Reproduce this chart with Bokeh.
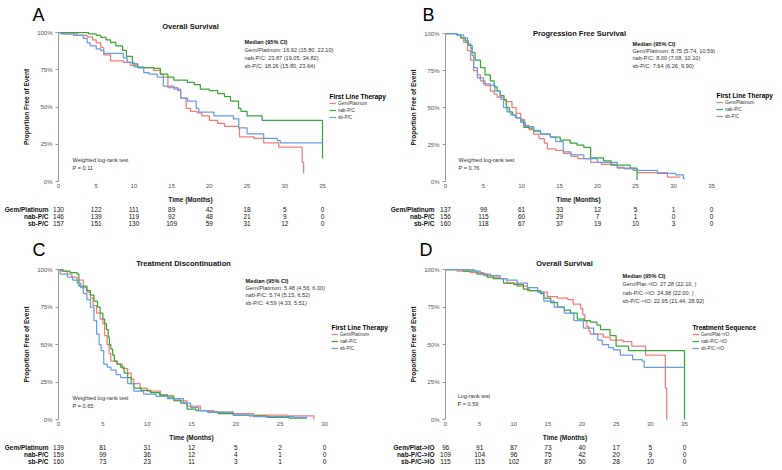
from bokeh.plotting import figure
from bokeh.models import (Range1d, Label, LabelSet, Legend, LegendItem, FixedTicker,
                          NumeralTickFormatter, ColumnDataSource)
from bokeh.layouts import column, row
from bokeh.embed import file_html
from bokeh.resources import INLINE
from bokeh.core.properties import value

FONT = "Liberation Sans"
RED, GREEN, BLUE = "#EF7E76", "#3AA53A", "#6A9BE6"
COLORS = [RED, GREEN, BLUE]

# ---------------- data ----------------
ticks_35 = [0, 5, 10, 15, 20, 25, 30, 35]
ticks_30 = [0, 5, 10, 15, 20, 25, 30]
y_ticks = [0, 0.25, 0.5, 0.75, 1.0]

first_line = ["Gem/Platinum", "nab-P/C", "sb-P/C"]
sequence = ["Gem/Plat->IO", "nab-P/C->IO", "sb-P/C->IO"]

# Panel A: Overall Survival (first line therapy)
a_gem_t = [0, 0.5, 2.5, 3.8, 4.5, 5.0, 5.6, 6.0, 6.9, 8.6, 9.5, 10.5, 12.6, 13.5, 13.9, 14.5, 15.8, 16.2, 16.92, 17.5, 18.4, 19.0, 20.0, 21.1, 22.0, 23.9, 24.0, 25.9, 27.2, 29.2, 32.3, 32.5]
a_gem_s = [1.0, 0.99, 0.98, 0.97, 0.95, 0.93, 0.90, 0.85, 0.81, 0.80, 0.78, 0.765, 0.745, 0.72, 0.70, 0.63, 0.61, 0.56, 0.49, 0.47, 0.46, 0.44, 0.41, 0.39, 0.37, 0.355, 0.30, 0.29, 0.26, 0.23, 0.13, 0.055]
a_nab_t = [0, 4.0, 5.0, 5.6, 6.3, 6.9, 7.6, 8.5, 9.0, 9.8, 10.5, 12.6, 13.5, 14.5, 15.3, 17.1, 18.0, 18.8, 20.0, 21.1, 22.0, 22.8, 23.87, 24.2, 25.0, 27.0, 35.0]
a_nab_s = [1.0, 0.99, 0.98, 0.967, 0.95, 0.933, 0.91, 0.88, 0.84, 0.79, 0.765, 0.76, 0.72, 0.70, 0.68, 0.665, 0.65, 0.62, 0.61, 0.59, 0.57, 0.54, 0.49, 0.47, 0.44, 0.41, 0.155]
a_sb_t = [0, 0.3, 2.0, 3.3, 3.8, 4.2, 5.0, 5.6, 6.0, 8.6, 9.1, 10.0, 11.3, 12.0, 13.1, 13.9, 15.3, 16.2, 17.1, 18.26, 18.6, 20.6, 23.2, 23.9, 25.0, 27.2, 29.0, 29.4, 35.0]
a_sb_s = [1.0, 0.99, 0.98, 0.96, 0.93, 0.91, 0.89, 0.88, 0.86, 0.83, 0.80, 0.77, 0.73, 0.72, 0.70, 0.64, 0.62, 0.56, 0.54, 0.49, 0.465, 0.44, 0.42, 0.36, 0.32, 0.29, 0.275, 0.26, 0.26]
a_risk_gem = [130, 122, 111, 89, 42, 18, 5, 0]
a_risk_nab = [146, 139, 119, 92, 48, 21, 9, 0]
a_risk_sb = [157, 151, 130, 109, 59, 31, 12, 0]
a_median = ["Gem/Platinum: 16.92 (15.80, 22.10)", "nab-P/C: 23.87 (19.05, 34.82)", "sb-P/C: 18.26 (15.80, 23.64)"]
a_test = ["Weighted log-rank test", "P = 0.11"]

# Panel B: Progression Free Survival
b_gem_t = [0, 1.5, 2.0, 2.4, 2.9, 3.3, 3.7, 4.2, 4.6, 5.2, 5.9, 6.4, 6.8, 7.3, 8.0, 8.75, 9.3, 9.9, 10.4, 11.0, 11.6, 12.3, 13.0, 13.4, 14.5, 15.5, 16.5, 17.4, 19.1, 20.5, 22.6, 23.5, 25.2, 29.2, 30.9]
b_gem_s = [1.0, 0.99, 0.97, 0.94, 0.885, 0.82, 0.75, 0.72, 0.68, 0.65, 0.61, 0.59, 0.57, 0.555, 0.54, 0.50, 0.46, 0.42, 0.38, 0.35, 0.32, 0.29, 0.26, 0.22, 0.21, 0.19, 0.17, 0.155, 0.13, 0.115, 0.095, 0.085, 0.06, 0.03, 0.03]
b_nab_t = [0, 1.5, 2.0, 2.6, 3.0, 3.5, 3.9, 4.6, 5.2, 5.9, 6.4, 6.8, 7.2, 7.7, 8.0, 8.4, 8.8, 9.3, 9.9, 10.3, 11.0, 11.6, 12.5, 13.8, 15.1, 16.4, 17.3, 18.2, 19.1, 20.8, 21.8, 24.3, 25.2]
b_nab_s = [1.0, 0.99, 0.97, 0.95, 0.92, 0.87, 0.82, 0.77, 0.72, 0.68, 0.64, 0.61, 0.58, 0.55, 0.50, 0.47, 0.45, 0.43, 0.41, 0.365, 0.36, 0.34, 0.32, 0.30, 0.28, 0.26, 0.245, 0.23, 0.16, 0.14, 0.11, 0.09, 0.01]
b_sb_t = [0, 1.5, 2.4, 2.9, 3.3, 3.5, 3.7, 4.2, 5.0, 5.9, 6.5, 7.2, 7.64, 8.1, 8.6, 9.2, 9.9, 10.5, 11.6, 12.5, 13.8, 14.5, 15.5, 16.5, 18.2, 20.0, 22.6, 24.7, 27.9, 30.3, 31.3, 31.5]
b_sb_s = [1.0, 0.99, 0.97, 0.93, 0.90, 0.85, 0.77, 0.70, 0.66, 0.65, 0.61, 0.57, 0.50, 0.47, 0.45, 0.43, 0.40, 0.37, 0.345, 0.32, 0.30, 0.27, 0.20, 0.18, 0.155, 0.13, 0.09, 0.075, 0.055, 0.045, 0.02, 0.02]
b_risk_gem = [137, 99, 61, 33, 12, 5, 1, 0]
b_risk_nab = [156, 115, 60, 29, 7, 1, 0, 0]
b_risk_sb = [160, 118, 67, 37, 19, 10, 3, 0]
b_median = ["Gem/Platinum: 8.75 (5.74, 10.59)", "nab-P/C: 8.00 (7.08, 10.10)", "sb-P/C: 7.64 (6.26, 9.90)"]
b_test = ["Weighted log-rank test", "P = 0.76"]

# Panel C: Treatment Discontinuation
c_gem_t = [0, 0.3, 1.0, 1.5, 2.1, 2.8, 3.2, 3.6, 3.9, 4.3, 4.7, 5.0, 5.2, 5.48, 5.7, 5.9, 6.6, 7.2, 7.8, 8.2, 8.5, 9.2, 10.0, 11.5, 13.0, 14.5, 16.0, 17.5, 19.7, 22.0, 25.8, 28.8]
c_gem_s = [1.0, 0.99, 0.97, 0.95, 0.93, 0.88, 0.85, 0.81, 0.76, 0.71, 0.67, 0.64, 0.56, 0.50, 0.44, 0.39, 0.37, 0.34, 0.31, 0.27, 0.24, 0.21, 0.19, 0.16, 0.125, 0.09, 0.06, 0.05, 0.04, 0.03, 0.025, 0.0]
c_nab_t = [0, 0.5, 1.3, 2.1, 2.3, 3.2, 3.6, 4.0, 4.4, 4.7, 5.0, 5.2, 5.4, 5.6, 5.74, 5.9, 6.1, 6.3, 6.6, 7.0, 7.4, 7.8, 8.2, 8.5, 9.3, 10.4, 11.4, 12.3, 13.0, 13.8, 14.5, 15.5, 16.8, 18.0, 19.7, 21.5, 23.5, 26.0, 28.0]
c_nab_s = [1.0, 0.99, 0.98, 0.97, 0.89, 0.86, 0.83, 0.79, 0.75, 0.71, 0.67, 0.64, 0.60, 0.55, 0.50, 0.47, 0.43, 0.39, 0.37, 0.35, 0.31, 0.28, 0.24, 0.21, 0.195, 0.18, 0.165, 0.15, 0.13, 0.11, 0.07, 0.06, 0.05, 0.04, 0.03, 0.025, 0.015, 0.01, 0.01]
c_sb_t = [0, 0.2, 1.0, 1.6, 2.1, 2.5, 2.8, 3.2, 3.6, 4.0, 4.3, 4.59, 4.8, 5.1, 5.5, 5.9, 6.5, 7.0, 7.8, 8.5, 9.6, 11.0, 12.3, 14.1, 14.9, 15.8, 16.8, 19.7, 22.0, 26.5, 28.0]
c_sb_s = [1.0, 0.97, 0.95, 0.93, 0.91, 0.88, 0.84, 0.80, 0.75, 0.66, 0.57, 0.50, 0.46, 0.37, 0.35, 0.33, 0.30, 0.28, 0.24, 0.19, 0.17, 0.155, 0.14, 0.11, 0.08, 0.06, 0.05, 0.03, 0.02, 0.015, 0.01]
c_risk_gem = [139, 81, 31, 12, 5, 2, 0]
c_risk_nab = [159, 99, 36, 12, 4, 1, 0]
c_risk_sb = [160, 73, 23, 11, 3, 1, 0]
c_median = ["Gem/Platinum: 5.48 (4.56, 6.00)", "nab-P/C: 5.74 (5.15, 6.52)", "sb-P/C: 4.59 (4.33, 5.51)"]
c_test = ["Weighted log-rank test", "P = 0.65"]

# Panel D: Overall Survival (treatment sequence)
d_gem_t = [0, 1.7, 3.6, 5.6, 7.0, 8.0, 9.0, 10.5, 12.0, 13.5, 14.9, 16.4, 17.9, 18.7, 19.8, 20.1, 20.4, 20.7, 21.0, 21.2, 23.1, 24.1, 26.0, 27.28, 29.3, 32.2, 32.4]
d_gem_s = [1.0, 0.99, 0.98, 0.96, 0.95, 0.94, 0.91, 0.89, 0.86, 0.85, 0.82, 0.81, 0.80, 0.77, 0.74, 0.70, 0.66, 0.62, 0.59, 0.57, 0.55, 0.53, 0.52, 0.49, 0.43, 0.21, 0.0]
d_nab_t = [0, 2.6, 4.6, 6.1, 7.0, 8.5, 10.0, 11.4, 12.3, 13.9, 14.4, 15.4, 16.4, 17.4, 18.3, 19.3, 20.3, 21.2, 22.2, 22.7, 24.1, 24.98, 26.8, 35.0]
d_nab_s = [1.0, 0.99, 0.97, 0.95, 0.94, 0.91, 0.90, 0.87, 0.86, 0.84, 0.81, 0.78, 0.75, 0.73, 0.71, 0.67, 0.66, 0.65, 0.63, 0.60, 0.56, 0.49, 0.46, 0.0]
d_sb_t = [0, 3.7, 4.2, 5.1, 6.6, 8.0, 9.0, 10.5, 12.0, 13.5, 14.4, 15.9, 17.4, 18.8, 20.2, 21.7, 22.3, 22.95, 23.9, 24.6, 25.6, 27.4, 28.8, 29.1, 35.0]
d_sb_s = [1.0, 1.0, 0.99, 0.97, 0.96, 0.94, 0.93, 0.91, 0.88, 0.85, 0.79, 0.75, 0.71, 0.66, 0.61, 0.57, 0.53, 0.50, 0.48, 0.465, 0.43, 0.40, 0.39, 0.347, 0.347]
d_risk_gem = [96, 91, 87, 73, 40, 17, 5, 0]
d_risk_nab = [109, 104, 96, 75, 42, 20, 9, 0]
d_risk_sb = [115, 115, 102, 87, 50, 28, 10, 0]
d_median = ["Gem/Plat->IO: 27.28 (22.10, )", "nab-P/C->IO: 24.98 (22.00, )", "sb-P/C->IO: 22.95 (21.44, 28.92)"]
d_test = ["Log-rank test", "P = 0.59"]

ROW_GAP = 7.0    # px between risk-table rows
ITEM_H = 6       # legend item height in px
ITEM_GAP = 1     # legend item spacing in px


def km_panel(letter, title, xmax, ticks, names, curves, risks, median_lines, test_lines, legend_title,
             W, H, L, R, T, B, letter_pos, title_pos, med_pos, med_gap, test_pos, leg_pos, row0, lab_gap):
    """One panel; L/R/T/B give the pixel box of the survival plot inside the canvas."""
    kx = xmax / (R - L)
    ky = 1.0 / (B - T)
    p = figure(width=W, height=H,
               x_range=Range1d(-L * kx, xmax + (W - R) * kx),
               y_range=Range1d(-(H - B) * ky, 1 + T * ky),
               min_border_left=0, min_border_right=0, min_border_top=0, min_border_bottom=0,
               output_backend="svg", toolbar_location=None)
    p.extra_y_ranges = {"rows": Range1d((H - row0) / ROW_GAP, -row0 / ROW_GAP)}
    p.xgrid.visible = False
    p.ygrid.visible = False
    p.outline_line_color = None

    for ax in (p.xaxis, p.yaxis):
        ax.major_label_text_font = FONT
        ax.major_label_text_font_size = "6px"
        ax.major_label_text_color = "#555555"
        ax.axis_label_text_font = FONT
        ax.axis_label_text_font_size = "6.5px"
        ax.axis_label_text_font_style = "bold"
        ax.axis_label_text_color = "#111111"
        ax.minor_tick_line_color = None

    p.xaxis.fixed_location = 0
    p.xaxis.bounds = (0, xmax)
    p.xaxis.ticker = FixedTicker(ticks=ticks)
    p.xaxis.axis_label = "Time (Months)"
    p.xaxis.axis_line_color = None
    p.xaxis.major_tick_line_color = None
    p.xaxis.major_tick_out = 0
    p.xaxis.major_tick_in = 0
    p.xaxis.major_label_standoff = 2
    p.xaxis.axis_label_standoff = 5

    p.yaxis.fixed_location = 0
    p.yaxis.bounds = (0, 1)
    p.yaxis.ticker = FixedTicker(ticks=y_ticks)
    p.yaxis.formatter = NumeralTickFormatter(format="0%")
    p.yaxis.axis_label = "Proportion Free of Event"
    p.yaxis.axis_line_color = "#9a9a9a"
    p.yaxis.major_tick_line_color = "#9a9a9a"
    p.yaxis.major_tick_out = 3
    p.yaxis.major_tick_in = 0
    p.yaxis.major_label_standoff = 3
    p.yaxis.axis_label_standoff = 4

    def put(px, py, text, size, bold=False, align="left", color="#222222"):
        p.add_layout(Label(x=(px - L) * kx, y=1 - (py - T) * ky, text=text, text_font=FONT,
                           text_font_size=size, text_font_style="bold" if bold else "normal",
                           text_align=align, text_baseline="middle", text_color=color,
                           text_outline_color=None, background_fill_color=None, border_line_color=None))

    items = []
    for name, color, (t, s) in zip(names, COLORS, curves):
        r = p.step(t, s, mode="after", line_color=color, line_width=1.25)
        items.append(LegendItem(label=name, renderers=[r]))

    lx, ly = leg_pos   # legend left edge, legend-title centre (px)
    put(4, H - 4, " ", "6px", color="#ffffff")   # blank spacer text, drawn first
    put(letter_pos[0], letter_pos[1], letter, "18px", color="#000000")
    put(title_pos[0], title_pos[1], title, "7.5px", bold=True, align="center", color="#111111")
    mx, my = med_pos
    put(mx, my, "Median (95% CI)", "5.6px", bold=True, color="#111111")
    for i, line in enumerate(median_lines):
        put(mx, my + med_gap * (i + 1), line, "5.6px", color="#333333")
    tx, ty = test_pos
    for i, line in enumerate(test_lines):
        put(tx, ty + 8 * i, line, "5.6px", color="#333333")
    put(lx, ly, legend_title, "6.5px", bold=True, color="#000000")

    # numbers at risk, on the same month scale as the curves
    xs, ys, txt = [], [], []
    for ri, counts in enumerate(risks):
        for tk, n in zip(ticks, counts):
            xs.append(tk)
            ys.append(ri)
            txt.append(str(n))
    p.add_layout(LabelSet(x="x", y="y", text="t", y_range_name="rows",
                          source=ColumnDataSource(dict(x=xs, y=ys, t=txt)),
                          text_align="center", text_baseline="middle", text_font=value(FONT),
                          text_font_size="6.5px", text_color="#111111"))
    p.add_layout(LabelSet(x="x", y="y", text="t", y_range_name="rows",
                          source=ColumnDataSource(dict(x=[0] * len(names), y=list(range(len(names))), t=names)),
                          x_offset=-lab_gap, text_align="right", text_baseline="middle", text_font=value(FONT),
                          text_font_size="6.5px", text_font_style="bold", text_color="#111111"))

    # legend drawn last
    n_items = len(items)
    leg_bottom = ly + 7 - ITEM_H / 2 + n_items * ITEM_H + (n_items - 1) * ITEM_GAP
    leg = Legend(items=items, location=(lx, H - leg_bottom),
                 label_text_font=FONT, label_text_font_size="4.6px", label_text_color="#333333",
                 label_height=ITEM_H, glyph_height=ITEM_H, glyph_width=7, label_standoff=2,
                 spacing=ITEM_GAP, padding=0, margin=0, border_line_color=None, background_fill_alpha=0)
    p.add_layout(leg)
    return p


pA = km_panel("A", "Overall Survival", 35, ticks_35, first_line,
              [(a_gem_t, a_gem_s), (a_nab_t, a_nab_s), (a_sb_t, a_sb_s)],
              [a_risk_gem, a_risk_nab, a_risk_sb], a_median, a_test, "First Line Therapy",
              W=390, H=236, L=58, R=322, T=32, B=181,
              letter_pos=(32, 14), title_pos=(190, 26), med_pos=(244, 41), med_gap=8.2,
              test_pos=(72, 159), leg_pos=(329, 96), row0=209, lab_gap=10)
pB = km_panel("B", "Progression Free Survival", 35, ticks_35, first_line,
              [(b_gem_t, b_gem_s), (b_nab_t, b_nab_s), (b_sb_t, b_sb_s)],
              [b_risk_gem, b_risk_nab, b_risk_sb], b_median, b_test, "First Line Therapy",
              W=390, H=236, L=55, R=321, T=33, B=181,
              letter_pos=(32, 14), title_pos=(189, 33), med_pos=(242, 43), med_gap=7.4,
              test_pos=(68, 159), leg_pos=(326, 95), row0=209, lab_gap=11)
pC = km_panel("C", "Treatment Discontinuation", 30, ticks_30, first_line,
              [(c_gem_t, c_gem_s), (c_nab_t, c_nab_s), (c_sb_t, c_sb_s)],
              [c_risk_gem, c_risk_nab, c_risk_sb], c_median, c_test, "First Line Therapy",
              W=390, H=232, L=58, R=324, T=33, B=183,
              letter_pos=(32, 13), title_pos=(183, 27), med_pos=(245, 44), med_gap=7.4,
              test_pos=(72, 161), leg_pos=(331, 91), row0=211, lab_gap=10)
pD = km_panel("D", "Overall Survival", 35, ticks_35, sequence,
              [(d_gem_t, d_gem_s), (d_nab_t, d_nab_s), (d_sb_t, d_sb_s)],
              [d_risk_gem, d_risk_nab, d_risk_sb], d_median, d_test, "Treatment Sequence",
              W=390, H=232, L=55, R=294, T=33, B=183,
              letter_pos=(29, 13), title_pos=(174, 27), med_pos=(232, 39), med_gap=8.5,
              test_pos=(67, 159), leg_pos=(302, 91), row0=211, lab_gap=11)

layout = column(row(pA, pB), row(pC, pD))
open("out.html", "w").write(file_html(layout, INLINE, "Kaplan-Meier curves"))
